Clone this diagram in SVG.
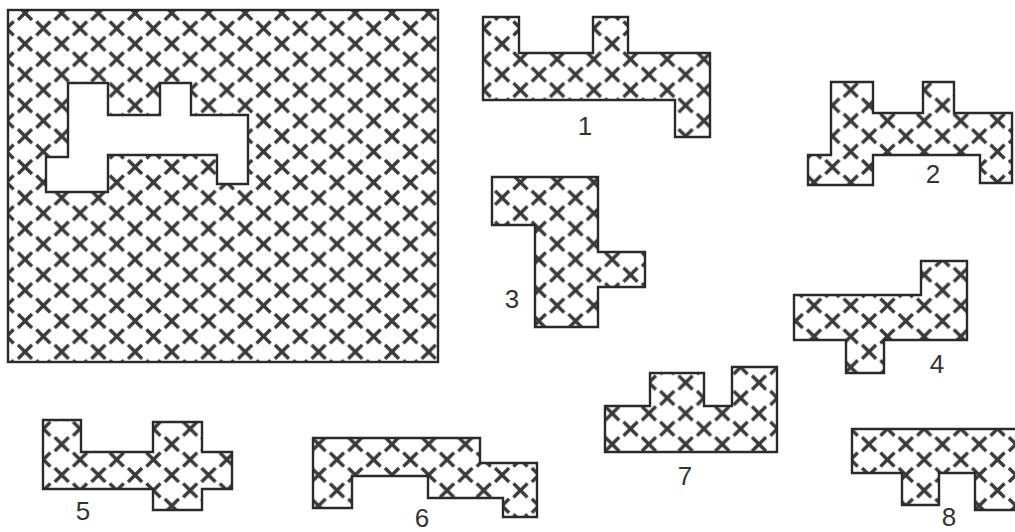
<svg xmlns="http://www.w3.org/2000/svg" width="1015" height="532" viewBox="0 0 1015 532">
<defs>
<pattern id="xs" patternUnits="userSpaceOnUse" x="25" y="13" width="36.7" height="30.8">
<g stroke="#3a3a3a" stroke-width="3.4" stroke-linecap="butt">
<path d="M-7,-7L7,7M-7,7L7,-7"/>
<path d="M29.7,-7L43.7,7M29.7,7L43.7,-7"/>
<path d="M-7,23.8L7,37.8M-7,37.8L7,23.8"/>
<path d="M29.7,23.8L43.7,37.8M29.7,37.8L43.7,23.8"/>
<path d="M11.35,8.4L25.35,22.4M11.35,22.4L25.35,8.4"/>
</g>
</pattern>
<style>
.sh{fill:url(#xs);stroke:#2a2a2a;stroke-width:2.4;stroke-linejoin:miter}
.hole{fill:#fff;stroke:#2a2a2a;stroke-width:2.4}
.lb{font-family:"Liberation Sans",Arial,sans-serif;font-size:26px;fill:#333;text-anchor:middle}
</style>
</defs>
<rect width="1015" height="532" fill="#fff"/>
<g id="board">
<rect class="sh" x="8" y="10" width="430" height="352"/>
<polygon class="hole" points="68,83 108,83 108,115 160,115 160,83 191,83 191,115 248,115 248,184 217,184 217,155 108,155 108,192 46,192 46,157 68,157"/>
</g>
<g id="piece1">
<polygon class="sh" points="483,17 519,17 519,53 593,53 593,17 628,17 628,53 710,53 710,137 675,137 675,100 483,100"/>
<text class="lb" x="585" y="135">1</text>
</g>
<g id="piece2">
<polygon class="sh" points="831,82 873,82 873,113 923,113 923,82 954,82 954,113 1012,113 1012,183 980,183 980,155 873,155 873,185 808,185 808,155 831,155"/>
<text class="lb" x="933" y="183">2</text>
</g>
<g id="piece3">
<polygon class="sh" points="492,177 598,177 598,252 645,252 645,287 598,287 598,327 535,327 535,225 492,225"/>
<text class="lb" x="512" y="308">3</text>
</g>
<g id="piece4">
<polygon class="sh" points="921,261 967,261 967,340 884,340 884,373 846,373 846,340 794,340 794,295 921,295"/>
<text class="lb" x="937" y="373">4</text>
</g>
<g id="piece5">
<polygon class="sh" points="43,420 81,420 81,452 153,452 153,422 202,422 202,452 232,452 232,489 202,489 202,510 153,510 153,489 43,489"/>
<text class="lb" x="83" y="520">5</text>
</g>
<g id="piece6">
<polygon class="sh" points="313,438 480,438 480,463 537,463 537,517 503,517 503,498 428,498 428,476 352,476 352,508 313,508"/>
<text class="lb" x="422" y="527">6</text>
</g>
<g id="piece7">
<polygon class="sh" points="605,406 650,406 650,373 704,373 704,406 732,406 732,367 777,367 777,452 605,452"/>
<text class="lb" x="685" y="485">7</text>
</g>
<g id="piece8">
<polygon class="sh" points="852,429 1020,429 1020,510 975,510 975,473 939,473 939,505 902,505 902,473 852,473"/>
<text class="lb" x="949" y="526">8</text>
</g>
<g id="connectors"/>
</svg>
